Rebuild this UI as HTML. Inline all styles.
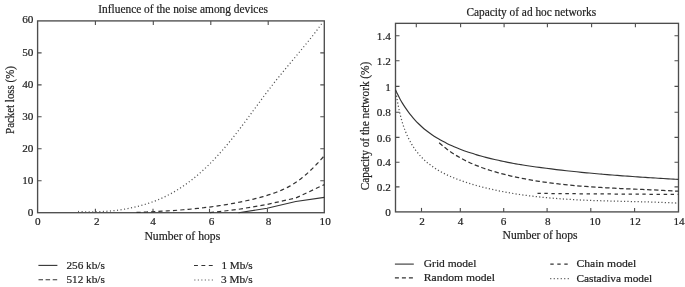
<!DOCTYPE html>
<html><head><meta charset="utf-8"><style>
html,body{margin:0;padding:0;background:#fff;width:685px;height:287px;overflow:hidden}
svg{display:block;filter:blur(0.3px)}
text{font-family:"Liberation Serif",serif;stroke:#222;stroke-width:0.2px}
</style></head><body>
<svg width="685" height="287" viewBox="0 0 685 287" font-family="'Liberation Serif', serif" fill="#222">
<rect width="685" height="287" fill="#fff"/>
<g stroke="#4d4d4d" stroke-width="1.35" fill="none">
<rect x="37.6" y="20.9" width="286.70" height="191.80"/>
<path stroke-width="1.1" d="M95.40,212.7 v-4.0 M95.40,20.9 v4.0"/>
<path stroke-width="1.1" d="M153.00,212.7 v-4.0 M153.30,20.9 v4.0"/>
<path stroke-width="1.1" d="M209.50,212.7 v-4.0 M210.80,20.9 v4.0"/>
<path stroke-width="1.1" d="M267.40,212.7 v-4.0 M268.20,20.9 v4.0"/>
<path stroke-width="1.1" d="M37.6,180.73 h4.0 M324.3,180.73 h-4.0"/>
<path stroke-width="1.1" d="M37.6,148.77 h4.0 M324.3,148.77 h-4.0"/>
<path stroke-width="1.1" d="M37.6,116.80 h4.0 M324.3,116.80 h-4.0"/>
<path stroke-width="1.1" d="M37.6,84.83 h4.0 M324.3,84.83 h-4.0"/>
<path stroke-width="1.1" d="M37.6,52.87 h4.0 M324.3,52.87 h-4.0"/>
</g>
<g stroke="#4d4d4d" stroke-width="1.35" fill="none">
<rect x="395.5" y="23.35" width="283.00" height="188.55"/>
<path stroke-width="1.1" d="M421.50,211.9 v-4.0"/>
<path stroke-width="1.1" d="M460.30,211.9 v-4.0"/>
<path stroke-width="1.1" d="M503.70,211.9 v-4.0"/>
<path stroke-width="1.1" d="M547.10,211.9 v-4.0"/>
<path stroke-width="1.1" d="M590.80,211.9 v-4.0"/>
<path stroke-width="1.1" d="M634.60,211.9 v-4.0"/>
<path stroke-width="1.1" d="M416.30,23.35 v4.0"/>
<path stroke-width="1.1" d="M460.60,23.35 v4.0"/>
<path stroke-width="1.1" d="M504.10,23.35 v4.0"/>
<path stroke-width="1.1" d="M547.40,23.35 v4.0"/>
<path stroke-width="1.1" d="M591.60,23.35 v4.0"/>
<path stroke-width="1.1" d="M635.40,23.35 v4.0"/>
<path stroke-width="1.1" d="M395.5,186.90 h4.0 M678.5,186.90 h-4.0"/>
<path stroke-width="1.1" d="M395.5,162.20 h4.0 M678.5,162.20 h-4.0"/>
<path stroke-width="1.1" d="M395.5,137.40 h4.0 M678.5,137.40 h-4.0"/>
<path stroke-width="1.1" d="M395.5,112.20 h4.0 M678.5,112.20 h-4.0"/>
<path stroke-width="1.1" d="M395.5,86.40 h4.0 M678.5,86.40 h-4.0"/>
<path stroke-width="1.1" d="M395.5,60.80 h4.0 M678.5,60.80 h-4.0"/>
<path stroke-width="1.1" d="M395.5,35.80 h4.0 M678.5,35.80 h-4.0"/>
</g>
<text x="33.4" y="216.1" font-size="11.2" text-anchor="end">0</text>
<text x="33.4" y="184.13333333333333" font-size="11.2" text-anchor="end">10</text>
<text x="33.4" y="152.16666666666666" font-size="11.2" text-anchor="end">20</text>
<text x="33.4" y="120.2" font-size="11.2" text-anchor="end">30</text>
<text x="33.4" y="88.23333333333335" font-size="11.2" text-anchor="end">40</text>
<text x="33.4" y="56.266666666666644" font-size="11.2" text-anchor="end">50</text>
<text x="33.4" y="22.900000000000006" font-size="11.2" text-anchor="end">60</text>
<text x="37.7" y="225.1" font-size="11.2" text-anchor="middle">0</text>
<text x="96.7" y="225.1" font-size="11.2" text-anchor="middle">2</text>
<text x="153.0" y="225.1" font-size="11.2" text-anchor="middle">4</text>
<text x="211.6" y="225.1" font-size="11.2" text-anchor="middle">6</text>
<text x="268.5" y="225.1" font-size="11.2" text-anchor="middle">8</text>
<text x="325.2" y="225.1" font-size="11.2" text-anchor="middle">10</text>
<text x="390.8" y="216.1" font-size="11.2" text-anchor="end">0</text>
<text x="390.8" y="191.1" font-size="11.2" text-anchor="end">0.2</text>
<text x="390.8" y="166.39999999999998" font-size="11.2" text-anchor="end">0.4</text>
<text x="390.8" y="141.6" font-size="11.2" text-anchor="end">0.6</text>
<text x="390.8" y="116.4" font-size="11.2" text-anchor="end">0.8</text>
<text x="390.8" y="90.60000000000001" font-size="11.2" text-anchor="end">1</text>
<text x="390.8" y="65.0" font-size="11.2" text-anchor="end">1.2</text>
<text x="390.8" y="40.0" font-size="11.2" text-anchor="end">1.4</text>
<text x="422.0" y="224.8" font-size="11.2" text-anchor="middle">2</text>
<text x="460.5" y="224.8" font-size="11.2" text-anchor="middle">4</text>
<text x="503.5" y="224.8" font-size="11.2" text-anchor="middle">6</text>
<text x="547.8" y="224.8" font-size="11.2" text-anchor="middle">8</text>
<text x="595.1" y="224.8" font-size="11.2" text-anchor="middle">10</text>
<text x="635.2" y="224.8" font-size="11.2" text-anchor="middle">12</text>
<text x="679.0" y="224.8" font-size="11.2" text-anchor="middle">14</text>
<text x="98.3" y="12.8" font-size="11.6" text-anchor="start" textLength="169.6" lengthAdjust="spacingAndGlyphs">Influence of the noise among devices</text>
<text x="466.5" y="16.4" font-size="11.5" text-anchor="start" textLength="129.6" lengthAdjust="spacingAndGlyphs">Capacity of ad hoc networks</text>
<text x="144.4" y="240.0" font-size="12" text-anchor="start" textLength="75.8" lengthAdjust="spacingAndGlyphs">Number of hops</text>
<text x="502.6" y="238.9" font-size="12" text-anchor="start" textLength="75.0" lengthAdjust="spacingAndGlyphs">Number of hops</text>
<text transform="translate(13.6,133.9) rotate(-90)" font-size="11.6" textLength="67.8" lengthAdjust="spacingAndGlyphs">Packet loss (%)</text>
<text transform="translate(368.7,190.3) rotate(-90)" font-size="11.6" textLength="128.6" lengthAdjust="spacingAndGlyphs">Capacity of the network (%)</text>
<g stroke="#333" stroke-width="1.1" fill="none">
<path d="M38.4,265.4 H57.4"/>
<path d="M38.5,279.7 H57.4" stroke-dasharray="4.5 2.6"/>
<path d="M194,265.5 H212.7" stroke-dasharray="3.9 3.5"/>
<path d="M194.3,280 H214" stroke-dasharray="1.1 2.4" stroke-width="1.2" stroke="#555"/>
<path d="M394.9,264.1 H413.8"/>
<path d="M394.9,277.9 H413.8" stroke-dasharray="4 3"/>
<path d="M550.3,264.1 H568" stroke-dasharray="3.4 3.6"/>
<path d="M550.2,278.6 H569.8" stroke-dasharray="1.1 2.4" stroke-width="1.2" stroke="#555"/>
</g>
<text x="66.4" y="269.0" font-size="10.9" text-anchor="start" textLength="38.4" lengthAdjust="spacingAndGlyphs">256 kb/s</text>
<text x="66.4" y="283.3" font-size="10.9" text-anchor="start" textLength="38.4" lengthAdjust="spacingAndGlyphs">512 kb/s</text>
<text x="221.4" y="269.0" font-size="10.9" text-anchor="start" textLength="31.3" lengthAdjust="spacingAndGlyphs">1 Mb/s</text>
<text x="221.0" y="283.2" font-size="10.9" text-anchor="start" textLength="31.6" lengthAdjust="spacingAndGlyphs">3 Mb/s</text>
<text x="423.8" y="267.3" font-size="10.9" text-anchor="start" textLength="52.6" lengthAdjust="spacingAndGlyphs">Grid model</text>
<text x="423.8" y="281.4" font-size="10.9" text-anchor="start" textLength="71.2" lengthAdjust="spacingAndGlyphs">Random model</text>
<text x="576.4" y="267.4" font-size="10.9" text-anchor="start" textLength="59.8" lengthAdjust="spacingAndGlyphs">Chain model</text>
<text x="576.4" y="281.5" font-size="10.9" text-anchor="start" textLength="75.8" lengthAdjust="spacingAndGlyphs">Castadiva model</text>
<path d="M238.5,212.7 L267.1,208.3 L295.8,201.5 L324.3,197.4" fill="none" stroke="#333" stroke-width="1.1" stroke-linejoin="round"/>
<path d="M209.8,212.7 L238.5,209.3 L267.1,204.4 L295.8,198.0 L324.3,184.6" fill="none" stroke="#333" stroke-width="1.2" stroke-linejoin="round" stroke-dasharray="4.2 3.1"/>
<path d="M136.50,212.40 C137.37,212.37 139.96,212.27 141.69,212.20 C143.42,212.13 145.16,212.06 146.89,211.98 C148.62,211.90 150.35,211.82 152.08,211.74 C153.81,211.66 155.55,211.58 157.28,211.49 C159.01,211.40 160.74,211.30 162.47,211.20 C164.20,211.10 165.93,211.00 167.66,210.89 C169.39,210.78 171.12,210.67 172.85,210.55 C174.58,210.43 176.31,210.31 178.04,210.18 C179.77,210.05 181.49,209.91 183.22,209.77 C184.95,209.63 186.67,209.48 188.40,209.32 C190.13,209.16 191.86,209.00 193.58,208.83 C195.31,208.66 197.03,208.49 198.75,208.30 C200.47,208.12 202.19,207.92 203.91,207.72 C205.63,207.52 207.35,207.31 209.07,207.09 C210.79,206.87 212.50,206.64 214.22,206.40 C215.94,206.16 217.66,205.91 219.37,205.66 C221.09,205.41 222.80,205.15 224.51,204.87 C226.22,204.59 227.93,204.31 229.64,204.01 C231.35,203.71 233.05,203.40 234.76,203.08 C236.47,202.76 238.17,202.43 239.87,202.09 C241.57,201.75 243.28,201.40 244.98,201.03 C246.68,200.66 248.38,200.28 250.07,199.89 C251.76,199.50 253.46,199.10 255.15,198.68 C256.84,198.26 258.54,197.83 260.22,197.38 C261.90,196.93 263.58,196.46 265.25,195.97 C266.92,195.48 268.58,194.97 270.23,194.43 C271.88,193.89 273.51,193.33 275.13,192.73 C276.75,192.13 278.36,191.50 279.95,190.84 C281.54,190.18 283.11,189.48 284.66,188.74 C286.21,188.00 287.74,187.22 289.24,186.40 C290.74,185.58 292.22,184.71 293.67,183.80 C295.12,182.89 296.55,181.93 297.95,180.93 C299.35,179.93 300.72,178.88 302.07,177.80 C303.42,176.72 304.74,175.60 306.05,174.46 C307.36,173.32 308.64,172.14 309.91,170.94 C311.18,169.74 312.42,168.52 313.65,167.28 C314.88,166.04 316.08,164.78 317.28,163.51 C318.48,162.24 319.66,160.95 320.83,159.67 C322.00,158.38 323.72,156.44 324.30,155.80" fill="none" stroke="#333" stroke-width="1.2" stroke-linecap="butt" stroke-dasharray="4.2 3.1"/>
<path d="M78.00,211.49 C78.85,211.53 81.38,211.67 83.08,211.73 C84.78,211.79 86.49,211.83 88.20,211.85 C89.91,211.87 91.63,211.87 93.35,211.85 C95.07,211.83 96.79,211.79 98.52,211.73 C100.25,211.67 101.97,211.59 103.70,211.49 C105.43,211.39 107.16,211.27 108.88,211.12 C110.60,210.97 112.33,210.81 114.05,210.62 C115.77,210.43 117.49,210.22 119.21,209.98 C120.93,209.74 122.64,209.48 124.35,209.19 C126.06,208.90 127.76,208.59 129.46,208.26 C131.16,207.92 132.85,207.56 134.53,207.18 C136.21,206.80 137.89,206.39 139.55,205.95 C141.22,205.51 142.87,205.04 144.52,204.55 C146.17,204.06 147.81,203.55 149.43,203.00 C151.06,202.45 152.67,201.87 154.27,201.27 C155.87,200.67 157.45,200.04 159.02,199.38 C160.59,198.72 162.15,198.03 163.69,197.31 C165.23,196.59 166.75,195.84 168.26,195.06 C169.77,194.28 171.26,193.47 172.74,192.64 C174.22,191.80 175.67,190.94 177.12,190.05 C178.57,189.16 180.00,188.25 181.42,187.31 C182.84,186.37 184.23,185.42 185.62,184.43 C187.01,183.44 188.38,182.43 189.74,181.40 C191.10,180.37 192.44,179.31 193.77,178.24 C195.10,177.17 196.42,176.08 197.72,174.97 C199.02,173.86 200.31,172.73 201.59,171.58 C202.87,170.43 204.13,169.26 205.38,168.08 C206.63,166.90 207.87,165.71 209.09,164.50 C210.31,163.29 211.53,162.06 212.73,160.82 C213.93,159.58 215.11,158.33 216.29,157.07 C217.47,155.81 218.63,154.53 219.78,153.25 C220.93,151.97 222.07,150.66 223.20,149.36 C224.33,148.06 225.45,146.75 226.56,145.43 C227.67,144.11 228.76,142.78 229.85,141.45 C230.94,140.12 232.02,138.78 233.09,137.43 C234.16,136.09 235.22,134.73 236.28,133.38 C237.34,132.03 238.38,130.67 239.42,129.30 C240.46,127.94 241.50,126.56 242.53,125.19 C243.56,123.82 244.59,122.45 245.61,121.07 C246.64,119.69 247.66,118.31 248.68,116.93 C249.70,115.55 250.71,114.16 251.72,112.78 C252.73,111.40 253.75,110.01 254.76,108.63 C255.77,107.25 256.79,105.86 257.80,104.48 C258.81,103.10 259.83,101.72 260.85,100.34 C261.87,98.96 262.89,97.58 263.91,96.21 C264.93,94.84 265.96,93.47 266.99,92.10 C268.02,90.73 269.06,89.37 270.10,88.01 C271.14,86.65 272.19,85.30 273.25,83.95 C274.31,82.60 275.36,81.25 276.43,79.91 C277.50,78.57 278.58,77.24 279.66,75.91 C280.74,74.58 281.82,73.25 282.91,71.93 C284.00,70.61 285.10,69.29 286.19,67.97 C287.28,66.65 288.38,65.33 289.48,64.01 C290.58,62.69 291.68,61.39 292.78,60.07 C293.88,58.75 294.98,57.44 296.08,56.12 C297.18,54.80 298.27,53.48 299.37,52.16 C300.47,50.84 301.56,49.53 302.65,48.20 C303.74,46.88 304.83,45.54 305.91,44.21 C306.99,42.88 308.06,41.54 309.13,40.20 C310.20,38.86 311.26,37.51 312.32,36.16 C313.38,34.81 314.43,33.45 315.47,32.08 C316.51,30.71 317.55,29.35 318.57,27.97 C319.59,26.59 321.10,24.50 321.60,23.80" fill="none" stroke="#555" stroke-width="1.25" stroke-linecap="butt" stroke-dasharray="1.1 2.45"/>
<path d="M395.50,89.70 C395.86,90.47 396.88,92.81 397.63,94.35 C398.38,95.88 399.16,97.41 399.98,98.91 C400.80,100.41 401.65,101.90 402.54,103.36 C403.43,104.82 404.35,106.27 405.31,107.69 C406.27,109.11 407.26,110.51 408.28,111.88 C409.30,113.25 410.37,114.60 411.45,115.92 C412.53,117.24 413.65,118.53 414.79,119.79 C415.94,121.05 417.11,122.28 418.32,123.48 C419.53,124.68 420.77,125.85 422.03,126.98 C423.29,128.11 424.58,129.20 425.90,130.26 C427.22,131.32 428.56,132.34 429.93,133.33 C431.30,134.32 432.69,135.27 434.10,136.19 C435.51,137.11 436.95,138.00 438.41,138.86 C439.87,139.72 441.35,140.54 442.84,141.34 C444.33,142.14 445.85,142.91 447.37,143.66 C448.89,144.41 450.44,145.12 451.99,145.81 C453.54,146.50 455.11,147.16 456.69,147.81 C458.27,148.46 459.86,149.08 461.46,149.68 C463.06,150.28 464.67,150.87 466.28,151.43 C467.89,151.99 469.51,152.53 471.13,153.06 C472.75,153.59 474.39,154.09 476.02,154.59 C477.65,155.09 479.29,155.57 480.93,156.03 C482.57,156.49 484.21,156.94 485.86,157.37 C487.51,157.80 489.16,158.22 490.81,158.63 C492.46,159.03 494.12,159.42 495.78,159.80 C497.44,160.18 499.10,160.55 500.77,160.90 C502.44,161.25 504.10,161.60 505.77,161.93 C507.44,162.26 509.12,162.59 510.79,162.90 C512.47,163.21 514.14,163.52 515.82,163.81 C517.50,164.10 519.19,164.38 520.87,164.66 C522.55,164.94 524.24,165.20 525.92,165.46 C527.60,165.72 529.28,165.98 530.97,166.23 C532.66,166.48 534.35,166.71 536.04,166.95 C537.73,167.19 539.42,167.41 541.11,167.64 C542.80,167.86 544.49,168.08 546.18,168.30 C547.87,168.52 549.56,168.73 551.25,168.94 C552.94,169.15 554.63,169.36 556.32,169.56 C558.01,169.76 559.71,169.96 561.40,170.15 C563.09,170.34 564.78,170.53 566.47,170.72 C568.16,170.91 569.86,171.09 571.55,171.27 C573.24,171.45 574.94,171.63 576.63,171.80 C578.32,171.97 580.01,172.14 581.70,172.31 C583.39,172.48 585.10,172.65 586.79,172.81 C588.48,172.97 590.18,173.12 591.87,173.28 C593.56,173.44 595.26,173.59 596.95,173.74 C598.64,173.89 600.35,174.03 602.04,174.18 C603.73,174.33 605.42,174.47 607.12,174.61 C608.82,174.75 610.51,174.89 612.21,175.02 C613.91,175.16 615.60,175.29 617.30,175.42 C619.00,175.55 620.69,175.68 622.39,175.81 C624.09,175.94 625.78,176.06 627.48,176.18 C629.18,176.30 630.88,176.42 632.58,176.54 C634.28,176.66 635.97,176.77 637.67,176.89 C639.37,177.00 641.07,177.12 642.77,177.23 C644.47,177.34 646.17,177.46 647.87,177.57 C649.57,177.68 651.27,177.78 652.97,177.89 C654.67,177.99 656.37,178.10 658.07,178.20 C659.77,178.30 661.48,178.41 663.18,178.51 C664.88,178.61 666.58,178.71 668.28,178.81 C669.98,178.91 671.69,179.01 673.39,179.11 C675.09,179.21 677.65,179.35 678.50,179.40" fill="none" stroke="#333" stroke-width="1.15" stroke-linecap="butt"/>
<path d="M439.19,142.81 C439.85,143.38 441.82,145.13 443.16,146.24 C444.50,147.35 445.87,148.42 447.25,149.45 C448.63,150.48 450.05,151.48 451.47,152.44 C452.90,153.40 454.34,154.33 455.80,155.23 C457.26,156.13 458.75,156.99 460.24,157.82 C461.74,158.65 463.25,159.45 464.77,160.23 C466.29,161.00 467.84,161.75 469.39,162.47 C470.94,163.19 472.51,163.88 474.09,164.54 C475.67,165.20 477.26,165.84 478.86,166.46 C480.46,167.08 482.08,167.67 483.70,168.24 C485.32,168.81 486.95,169.36 488.59,169.89 C490.23,170.42 491.88,170.93 493.53,171.42 C495.18,171.91 496.84,172.39 498.51,172.85 C500.18,173.31 501.84,173.74 503.52,174.17 C505.19,174.60 506.88,175.01 508.56,175.41 C510.24,175.81 511.93,176.19 513.61,176.56 C515.29,176.93 516.98,177.30 518.67,177.65 C520.36,178.00 522.06,178.33 523.75,178.66 C525.44,178.99 527.13,179.30 528.83,179.61 C530.53,179.92 532.23,180.22 533.93,180.50 C535.63,180.78 537.33,181.06 539.04,181.32 C540.75,181.58 542.45,181.84 544.16,182.08 C545.87,182.33 547.58,182.56 549.29,182.79 C551.00,183.02 552.71,183.24 554.43,183.45 C556.14,183.66 557.86,183.87 559.58,184.06 C561.30,184.25 563.01,184.44 564.73,184.62 C566.45,184.80 568.17,184.97 569.89,185.13 C571.61,185.29 573.34,185.46 575.06,185.61 C576.78,185.76 578.50,185.91 580.23,186.05 C581.96,186.19 583.68,186.32 585.41,186.45 C587.13,186.58 588.85,186.71 590.58,186.83 C592.31,186.95 594.04,187.06 595.77,187.17 C597.50,187.28 599.22,187.39 600.95,187.49 C602.68,187.59 604.41,187.69 606.14,187.78 C607.87,187.88 609.59,187.97 611.32,188.06 C613.05,188.15 614.78,188.23 616.51,188.32 C618.24,188.41 619.97,188.49 621.70,188.57 C623.43,188.65 625.15,188.72 626.88,188.80 C628.61,188.88 630.33,188.96 632.06,189.03 C633.79,189.10 635.51,189.18 637.24,189.25 C638.97,189.32 640.69,189.40 642.42,189.47 C644.14,189.54 645.87,189.62 647.59,189.69 C649.31,189.76 651.04,189.83 652.76,189.91 C654.48,189.99 656.20,190.07 657.92,190.15 C659.64,190.23 661.36,190.31 663.08,190.39 C664.80,190.47 666.50,190.55 668.22,190.64 C669.94,190.73 671.66,190.82 673.37,190.91 C675.08,191.00 677.64,191.15 678.50,191.20" fill="none" stroke="#333" stroke-width="1.25" stroke-linecap="butt" stroke-dasharray="4.4 2.6"/>
<path d="M537.50,193.30 C541.25,193.35 549.58,193.50 560.00,193.60 C570.42,193.70 586.67,193.80 600.00,193.90 C613.33,194.00 626.92,194.12 640.00,194.20 C653.08,194.28 672.08,194.37 678.50,194.40" fill="none" stroke="#333" stroke-width="1.25" stroke-linecap="butt" stroke-dasharray="3.4 3.6"/>
<path d="M396.01,92.30 C396.14,93.12 396.50,95.58 396.77,97.23 C397.04,98.88 397.31,100.54 397.61,102.21 C397.91,103.88 398.22,105.56 398.56,107.24 C398.90,108.92 399.25,110.60 399.63,112.28 C400.01,113.96 400.42,115.63 400.86,117.30 C401.30,118.97 401.76,120.63 402.26,122.28 C402.76,123.93 403.29,125.58 403.86,127.20 C404.43,128.82 405.04,130.43 405.68,132.02 C406.32,133.61 407.00,135.18 407.73,136.72 C408.46,138.26 409.22,139.78 410.03,141.27 C410.84,142.76 411.68,144.21 412.57,145.64 C413.46,147.06 414.41,148.46 415.39,149.82 C416.37,151.18 417.40,152.49 418.47,153.77 C419.54,155.05 420.67,156.28 421.83,157.48 C422.99,158.68 424.19,159.83 425.43,160.95 C426.67,162.07 427.95,163.15 429.27,164.18 C430.58,165.21 431.94,166.20 433.32,167.15 C434.70,168.10 436.12,169.01 437.56,169.88 C439.00,170.75 440.48,171.58 441.98,172.38 C443.48,173.18 445.00,173.95 446.54,174.68 C448.08,175.41 449.64,176.11 451.21,176.78 C452.78,177.45 454.38,178.10 455.98,178.73 C457.58,179.35 459.19,179.95 460.81,180.53 C462.43,181.11 464.05,181.66 465.68,182.20 C467.31,182.74 468.94,183.26 470.57,183.76 C472.20,184.26 473.84,184.74 475.48,185.21 C477.12,185.68 478.77,186.13 480.42,186.57 C482.07,187.01 483.72,187.42 485.37,187.83 C487.02,188.24 488.67,188.63 490.33,189.01 C491.99,189.39 493.65,189.76 495.31,190.11 C496.97,190.47 498.63,190.81 500.30,191.14 C501.97,191.47 503.63,191.79 505.30,192.10 C506.97,192.41 508.64,192.71 510.31,192.99 C511.98,193.28 513.65,193.55 515.32,193.81 C516.99,194.07 518.67,194.33 520.35,194.58 C522.03,194.83 523.70,195.06 525.38,195.29 C527.06,195.52 528.74,195.73 530.42,195.94 C532.10,196.15 533.79,196.35 535.47,196.54 C537.15,196.73 538.84,196.91 540.52,197.09 C542.20,197.27 543.89,197.43 545.58,197.59 C547.27,197.75 548.96,197.91 550.65,198.05 C552.34,198.20 554.03,198.33 555.72,198.46 C557.41,198.59 559.11,198.72 560.80,198.84 C562.49,198.96 564.18,199.07 565.88,199.18 C567.58,199.29 569.27,199.38 570.97,199.48 C572.67,199.58 574.36,199.67 576.06,199.76 C577.76,199.85 579.45,199.93 581.15,200.01 C582.85,200.09 584.55,200.16 586.25,200.23 C587.95,200.30 589.65,200.37 591.35,200.43 C593.05,200.49 594.75,200.55 596.45,200.61 C598.15,200.67 599.85,200.73 601.55,200.78 C603.25,200.83 604.96,200.88 606.66,200.93 C608.36,200.98 610.06,201.02 611.76,201.06 C613.46,201.10 615.17,201.15 616.87,201.19 C618.57,201.23 620.27,201.28 621.97,201.32 C623.67,201.36 625.38,201.40 627.08,201.44 C628.78,201.48 630.48,201.52 632.18,201.56 C633.88,201.60 635.58,201.64 637.28,201.68 C638.98,201.72 640.68,201.77 642.38,201.81 C644.08,201.85 645.78,201.90 647.48,201.95 C649.18,202.00 650.88,202.05 652.58,202.10 C654.28,202.15 655.97,202.20 657.67,202.26 C659.37,202.32 661.06,202.38 662.76,202.44 C664.46,202.50 666.15,202.57 667.84,202.64 C669.53,202.71 671.23,202.78 672.92,202.86 C674.61,202.94 677.15,203.06 678.00,203.10" fill="none" stroke="#555" stroke-width="1.25" stroke-linecap="butt" stroke-dasharray="1.2 2.2"/>
</svg>
</body></html>
